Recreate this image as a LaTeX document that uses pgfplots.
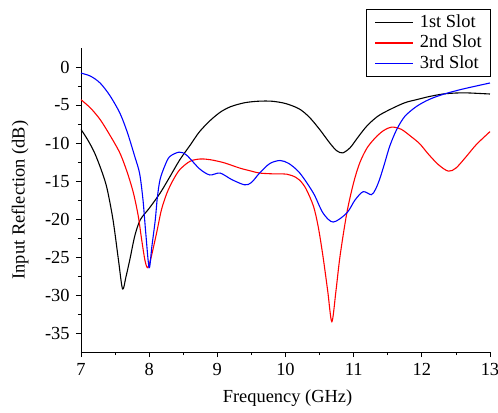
\documentclass[border=0pt]{standalone}
\usepackage{fontspec}
\setmainfont{Liberation Serif}
\usepackage{pgfplots}
\pgfplotsset{compat=1.18}
\newcommand{\legline}[1]{\tikz[baseline=-0.55ex]\draw[#1, line width=1.5pt] (0,0) -- (38bp,0);\hspace{6bp}}

\begin{document}
\fontsize{18.5}{22}\selectfont
\begin{tikzpicture}[trim left=(BL), trim right=(TR)]
\begin{axis}[
  scale only axis,
  width=409bp, height=304bp,
  xmin=7, xmax=13,
  ymin=-37.5, ymax=2.5,
  axis lines*=left,
  axis line style={line width=0.9pt},
  xtick={7,8,...,13},
  ytick={-35,-30,...,0},
  minor x tick num=1,
  minor y tick num=1,
  tick align=outside,
  major tick length=5bp,
  minor tick length=3bp,
  tick style={black, line width=0.8pt},
  /pgf/number format/assume math mode=true,
  ticklabel style={font=\fontsize{18.5}{22}\selectfont},
  xlabel={Frequency (GHz)},
  ylabel={Input Reflection (dB)},
  xlabel style={at={(rel axis cs:0.505,-0.151)}, anchor=center},
  ylabel style={at={(rel axis cs:-0.149,0.5)}, anchor=center, rotate=0},
  label style={font=\fontsize{18.5}{22}\selectfont},
  clip=false,
  legend style={at={(rel axis cs:1,1.128)}, anchor=north east,
    font=\fontsize{18.5}{22}\selectfont,
    inner xsep=6pt, inner ysep=3pt, row sep=1pt, column sep=0pt},
  legend cell align=left,
  legend image code/.code={},
]
\coordinate (BL) at (rel axis cs:-0.198,-0.194);
\coordinate (TR) at (rel axis cs:1.0196,1.158);
\path (BL) rectangle (TR);

% 1st Slot
\addplot[black, line width=1.1pt, smooth, tension=0.5] coordinates {
(7.00,-8.2) (7.10,-9.6) (7.20,-11.3) (7.30,-13.6) (7.38,-15.9) (7.47,-20.1) (7.55,-25.4)
(7.61,-29.2) (7.66,-27.6) (7.72,-25.2) (7.79,-22.2) (7.87,-20.1) (8.00,-18.6)
(8.16,-16.6) (8.30,-14.5) (8.45,-12.2) (8.60,-10.3) (8.74,-8.5) (8.90,-7.0)
(9.05,-5.9) (9.20,-5.2) (9.40,-4.7) (9.60,-4.5) (9.80,-4.5) (10.00,-4.8)
(10.20,-5.5) (10.35,-6.6) (10.50,-8.2) (10.65,-10.0) (10.75,-11.0) (10.84,-11.3)
(10.95,-10.6) (11.05,-9.4) (11.19,-7.8) (11.35,-6.5) (11.53,-5.6) (11.75,-4.7)
(11.92,-4.3) (12.10,-3.9) (12.31,-3.55) (12.50,-3.42) (12.65,-3.4) (12.85,-3.48) (13.00,-3.55)
};
\addlegendentry{\legline{black}1st Slot}

% 2nd Slot
\addplot[red, line width=1.1pt, smooth, tension=0.5] coordinates {
(7.00,-4.3) (7.14,-5.4) (7.28,-6.9) (7.42,-8.9) (7.57,-11.3) (7.68,-13.9)
(7.77,-16.6) (7.84,-19.6) (7.89,-22.7) (7.94,-25.5) (7.98,-26.4) (8.03,-25.0)
(8.11,-21.8) (8.18,-18.8) (8.26,-16.6) (8.35,-14.9) (8.45,-13.5) (8.60,-12.4)
(8.75,-12.1) (8.90,-12.2) (9.10,-12.6) (9.33,-13.3) (9.50,-13.7) (9.62,-13.95)
(9.80,-14.05) (10.02,-14.1) (10.15,-14.5) (10.21,-14.9) (10.30,-16.0) (10.41,-18.3)
(10.48,-21.0) (10.55,-24.9) (10.62,-29.5) (10.68,-33.5) (10.74,-29.5) (10.80,-24.9)
(10.90,-19.2) (11.00,-15.2) (11.09,-12.6) (11.20,-10.6) (11.34,-9.1) (11.45,-8.3)
(11.56,-7.9) (11.70,-8.2) (11.85,-9.2) (11.97,-10.1) (12.10,-11.5) (12.25,-12.9)
(12.39,-13.7) (12.50,-13.3) (12.65,-11.8) (12.80,-10.2) (13.00,-8.5)
};
\addlegendentry{\legline{red}2nd Slot}

% 3rd Slot
\addplot[blue, line width=1.1pt, smooth, tension=0.5] coordinates {
(7.00,-0.8) (7.14,-1.2) (7.28,-2.1) (7.42,-3.7) (7.57,-6.05) (7.68,-8.6)
(7.79,-11.8) (7.86,-14.0) (7.91,-17.5) (7.95,-21.8) (8.00,-26.4) (8.04,-23.6)
(8.09,-20.1) (8.12,-17.2) (8.16,-14.8) (8.23,-13.0) (8.30,-11.8) (8.44,-11.2)
(8.55,-11.6) (8.74,-13.4) (8.89,-14.2) (9.04,-13.95) (9.21,-14.8) (9.40,-15.5)
(9.50,-15.2) (9.62,-13.95) (9.77,-12.7) (9.92,-12.3) (10.05,-12.7) (10.21,-13.95)
(10.41,-16.6) (10.55,-19.2) (10.70,-20.4) (10.90,-19.2) (11.02,-17.5) (11.14,-16.4)
(11.26,-16.8) (11.32,-16.1) (11.38,-14.8) (11.45,-12.8) (11.53,-10.4) (11.63,-8.25)
(11.75,-6.5) (11.92,-5.2) (12.10,-4.3) (12.31,-3.6) (12.60,-2.9) (13.00,-2.1)
};
\addlegendentry{\legline{blue}3rd Slot}
\end{axis}
\end{tikzpicture}
\end{document}
